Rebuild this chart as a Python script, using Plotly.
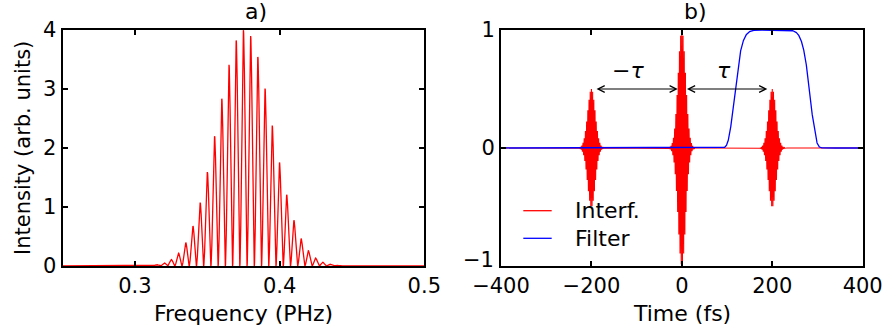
import numpy as np
import plotly.graph_objects as go

# ---------------- data ----------------
# Panel a): spectral interference (Gaussian spectrum x fringes)
freq_axis_range = [0.25, 0.5]          # PHz
freq_ticks = [0.3, 0.4, 0.5]
intensity_ticks = [0, 1, 2, 3, 4]
spectrum_center_phz = 0.3757           # envelope centre
spectrum_sigma_phz = 0.0189            # envelope rms width
spectrum_peak = 4.0                    # peak of fringe pattern
delay_fs = 200.0                       # fringe spacing 1/tau = 0.005 PHz

# Panel b): time-domain interferogram and filter
time_axis_range = [-400, 400]          # fs
time_ticks = [-400, -200, 0, 200, 400]
signal_ticks = [-1, 0, 1]
signal_ticktext = ["", "0", "1"]       # the "−1" label is placed slightly raised, as in the reference
pulse_times_fs = [-200.0, 0.0, 200.0]
pulse_amplitudes = [0.5, 1.0, 0.5]
filter_center_fs = 200.0
filter_halfwidth_fs = 82.0             # half width at half maximum
filter_order = 8

arrow_y = 0.5
arrow_segments = [(-192.0, -9.0), (8.0, 189.0)]
arrow_labels = ["\u2212<i>\u03c4</i>", "<i>\u03c4</i>"]
arrow_label_x = [-120.0, 94.0]
arrow_label_y = 0.66

legend_names = ["Interf.", "Filter"]
colors = ["#ff0000", "#0000ff"]

# ---------------- curves ----------------
f = np.linspace(freq_axis_range[0], freq_axis_range[1], 4001)
env_f = np.exp(-(f - spectrum_center_phz) ** 2 / (2 * spectrum_sigma_phz ** 2))
spectrum = spectrum_peak * env_f * 0.5 * (1 + np.cos(2 * np.pi * f * delay_fs))

t = np.linspace(time_axis_range[0], time_axis_range[1], 16001)
sigma_t = 1.0 / (2 * np.pi * spectrum_sigma_phz)
signal = np.zeros_like(t)
for tk, ak in zip(pulse_times_fs, pulse_amplitudes):
    signal += ak * np.exp(-(t - tk) ** 2 / (2 * sigma_t ** 2)) * np.cos(
        2 * np.pi * spectrum_center_phz * (t - tk))
filt = np.exp(-np.log(2) * (np.abs(t - filter_center_fs) / filter_halfwidth_fs) ** filter_order)

# ---------------- figure ----------------
W, H = 887, 336
def px(x):
    return x / W
def py(y):
    return 1 - y / H

ax1 = [62.5, 424.3]
ax2 = [501.0, 862.7]
ay = [30.0, 266.0]

FONT = "DejaVu Sans"
FS = 22
TFS = 21
fig = go.Figure()
fig.add_trace(go.Scatter(x=f, y=spectrum, mode="lines", line=dict(color=colors[0], width=1.3),
                         xaxis="x", yaxis="y", showlegend=False, name="Spectrum"))
fig.add_trace(go.Scatter(x=t, y=signal, mode="lines", line=dict(color=colors[0], width=1.1),
                         xaxis="x2", yaxis="y2", showlegend=False, name=legend_names[0]))
fig.add_trace(go.Scatter(x=t, y=filt, mode="lines", line=dict(color=colors[1], width=1.3),
                         xaxis="x2", yaxis="y2", showlegend=False, name=legend_names[1]))

axis_common = dict(showgrid=False, zeroline=False, showline=True, linecolor="black", linewidth=2,
                   mirror="ticks", ticks="inside", ticklen=5, tickwidth=1.5, tickcolor="black",
                   tickfont=dict(family=FONT, size=TFS, color="black"), automargin=False)

fig.update_layout(
    width=W, height=H, margin=dict(l=0, r=0, t=0, b=0),
    paper_bgcolor="white", plot_bgcolor="white",
    xaxis=dict(domain=[px(ax1[0]), px(ax1[1])], range=freq_axis_range, tickvals=freq_ticks,
               ticktext=[f"{v:g}" for v in freq_ticks], anchor="y", **axis_common),
    yaxis=dict(domain=[py(ay[1]), py(ay[0])], range=[0, 4], tickvals=intensity_ticks,
               anchor="x", **axis_common),
    xaxis2=dict(domain=[px(ax2[0]), px(ax2[1])], range=time_axis_range, tickvals=time_ticks,
                anchor="y2", **axis_common),
    yaxis2=dict(domain=[py(ay[1]), py(ay[0])], range=[-1, 1], tickvals=signal_ticks,
                ticktext=signal_ticktext, anchor="x2", **axis_common),
    showlegend=False,
)

ann = []
tf = dict(family=FONT, size=FS, color="black")
# raised "−1" tick label of panel b)
ann.append(dict(text="\u22121", x=px(ax2[0] - 5), y=signal_ticks[0], xref="paper", yref="y2",
                xanchor="right", yanchor="middle", yshift=6, showarrow=False,
                font=dict(family=FONT, size=TFS, color="black")))
# titles (left-aligned at axes centre)
ann.append(dict(text="a)", x=px((ax1[0] + ax1[1]) / 2), y=py(12), xref="paper", yref="paper",
                xanchor="left", yanchor="middle", showarrow=False, font=tf))
ann.append(dict(text="b)", x=px((ax2[0] + ax2[1]) / 2), y=py(12), xref="paper", yref="paper",
                xanchor="left", yanchor="middle", showarrow=False, font=tf))
# axis titles
ann.append(dict(text="Intensity (arb. units)", x=px(23), y=py((ay[0] + ay[1]) / 2), xref="paper",
                yref="paper", textangle=-90, xanchor="center", yanchor="middle", showarrow=False,
                font=dict(family=FONT, size=21, color="black")))
ann.append(dict(text="Frequency (PHz)", x=px((ax1[0] + ax1[1]) / 2), y=py(313), xref="paper",
                yref="paper", xanchor="center", yanchor="middle", showarrow=False, font=tf))
ann.append(dict(text="Time (fs)", x=px((ax2[0] + ax2[1]) / 2), y=py(313), xref="paper",
                yref="paper", xanchor="center", yanchor="middle", showarrow=False, font=tf))
# double arrows
for (x0, x1) in arrow_segments:
    ann.append(dict(x=x1, y=arrow_y, ax=x0, ay=arrow_y, xref="x2", yref="y2", axref="x2", ayref="y2",
                    text="", showarrow=True, arrowside="end+start", arrowhead=5, startarrowhead=5,
                    arrowsize=1.1, startarrowsize=1.1, arrowwidth=1.2, arrowcolor="black",
                    standoff=0, startstandoff=0))
for lab, lx in zip(arrow_labels, arrow_label_x):
    ann.append(dict(text=lab, x=lx, y=arrow_label_y, xref="x2", yref="y2", showarrow=False,
                    xanchor="center", yanchor="middle", font=tf))
# legend (manual, to match the sample line geometry)
leg_y = [210.7, 238.3]
for name, c, yy in zip(legend_names, colors, leg_y):
    fig.add_shape(type="line", xref="paper", yref="paper", x0=px(523.3), x1=px(551.7),
                  y0=py(yy), y1=py(yy), line=dict(color=c, width=1.3))
    ann.append(dict(text=name, x=px(573), y=py(yy), xref="paper", yref="paper",
                    xanchor="left", yanchor="middle", showarrow=False, font=tf))
fig.update_layout(annotations=ann)

fig.write_html("out.html")
